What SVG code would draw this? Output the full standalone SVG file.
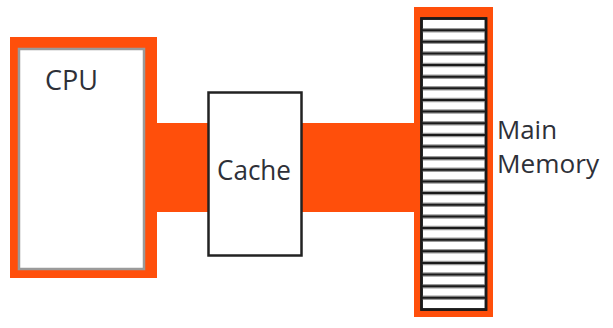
<svg xmlns="http://www.w3.org/2000/svg" width="613" height="328" viewBox="0 0 613 328">
<style>
.org{fill:#FF4F0B}
.lbl{font-family:"Open Sans","Liberation Sans",sans-serif;fill:#2e3038;font-size:28px}
.mem{font-size:25px}
.box{fill:#ffffff}
</style>
<rect width="613" height="328" fill="#ffffff"/>
<g id="connectors">
<rect class="org" x="155" y="123" width="262" height="89"/>
</g>
<g id="cpu">
<rect class="org" x="10" y="37" width="147" height="241"/>
<rect class="box" x="19" y="49" width="125" height="220" stroke="#9a9a9a" stroke-width="2.5"/>
<text class="lbl" x="45" y="90" textLength="53" lengthAdjust="spacingAndGlyphs">CPU</text>
</g>
<g id="cache">
<rect class="box" x="208.5" y="92.5" width="93" height="163" stroke="#222" stroke-width="2.5"/>
<text class="lbl" x="217" y="180" textLength="74" lengthAdjust="spacingAndGlyphs">Cache</text>
</g>
<g id="memory">
<rect class="org" x="414" y="7" width="79" height="310"/>
<rect class="box" x="421.5" y="18.5" width="64.5" height="291" stroke="#1a1a1a" stroke-width="2.5"/>
<path fill="none" stroke="#9a9a9a" stroke-width="4.5" d="M421.5 30.14H486M421.5 41.78H486M421.5 53.42H486M421.5 65.06H486M421.5 76.7H486M421.5 88.34H486M421.5 99.98H486M421.5 111.62H486M421.5 123.26H486M421.5 134.9H486M421.5 146.54H486M421.5 158.18H486M421.5 169.82H486M421.5 181.46H486M421.5 193.1H486M421.5 204.74H486M421.5 216.38H486M421.5 228.02H486M421.5 239.66H486M421.5 251.3H486M421.5 262.94H486M421.5 274.58H486M421.5 286.22H486M421.5 297.86H486"/>
<path fill="none" stroke="#1a1a1a" stroke-width="2" d="M421.5 30.14H486M421.5 41.78H486M421.5 53.42H486M421.5 65.06H486M421.5 76.7H486M421.5 88.34H486M421.5 99.98H486M421.5 111.62H486M421.5 123.26H486M421.5 134.9H486M421.5 146.54H486M421.5 158.18H486M421.5 169.82H486M421.5 181.46H486M421.5 193.1H486M421.5 204.74H486M421.5 216.38H486M421.5 228.02H486M421.5 239.66H486M421.5 251.3H486M421.5 262.94H486M421.5 274.58H486M421.5 286.22H486M421.5 297.86H486"/>
<rect fill="none" x="421.5" y="18.5" width="64.5" height="291" stroke="#1a1a1a" stroke-width="2.5"/>
<text class="lbl mem" x="497" y="139" textLength="60" lengthAdjust="spacingAndGlyphs">Main</text>
<text class="lbl mem" x="497" y="173" textLength="102" lengthAdjust="spacingAndGlyphs">Memory</text>
</g>
</svg>
